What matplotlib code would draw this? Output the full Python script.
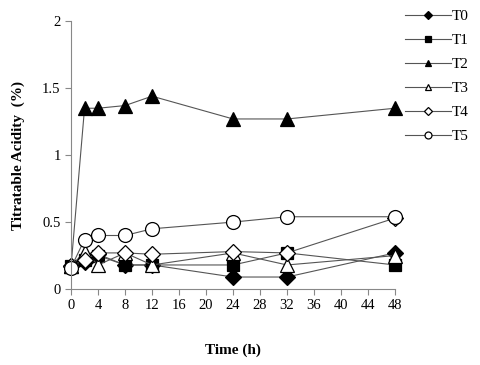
import matplotlib
matplotlib.use("Agg")
import matplotlib.pyplot as plt
from matplotlib.lines import Line2D

hours = [0, 2, 4, 8, 12, 24, 32, 48]
T0 = [0.17, 0.20, 0.26, 0.18, 0.18, 0.09, 0.09, 0.27]
T1 = [0.17, 0.22, 0.25, 0.18, 0.18, 0.18, 0.27, 0.18]
T2 = [0.17, 1.35, 1.35, 1.37, 1.44, 1.27, 1.27, 1.35]
T3 = [0.17, 0.28, 0.18, 0.27, 0.18, 0.27, 0.18, 0.25]
T4 = [0.17, 0.22, 0.27, 0.27, 0.26, 0.28, 0.27, 0.53]
T5 = [0.16, 0.37, 0.40, 0.40, 0.45, 0.50, 0.54, 0.54]
labels = ["T0", "T1", "T2", "T3", "T4", "T5"]
xticks = list(range(0, 49, 4))
yticks = [0, 0.5, 1, 1.5, 2]
ytick_labels = ["0", "0.5", "1", "1.5", "2"]

plt.rcParams['font.family'] = ['Liberation Serif', 'DejaVu Serif']

fig = plt.figure(figsize=(4.8, 3.65), dpi=100)
ax = fig.add_axes([0.148, 0.208, 0.675, 0.734])

styles = [
    dict(marker='D', ms=8, mfc='black', mec='black'),
    dict(marker='s', ms=8, mfc='black', mec='black'),
    dict(marker='^', ms=10, mfc='black', mec='black'),
    dict(marker='^', ms=10, mfc='white', mec='black'),
    dict(marker='D', ms=8, mfc='white', mec='black'),
    dict(marker='o', ms=10, mfc='white', mec='black'),
]
series = [T0, T1, T2, T3, T4, T5]
handles = []
for s, st, lab in zip(series, styles, labels):
    ax.plot(hours, s, color='#555555', lw=0.8, mew=0.9, label=lab,
            clip_on=False, **st)
    hs = dict(st)
    hs['ms'] = st['ms'] * 0.5
    handles.append(Line2D([0], [0], color='#555555', lw=0.8, mew=0.9, **hs))

ax.set_xlim(0, 48)
ax.set_ylim(0, 2)
ax.set_xticks(xticks)
ax.set_yticks(yticks)
ax.set_yticklabels(ytick_labels)
for sp in ['top', 'right']:
    ax.spines[sp].set_visible(False)
for sp in ['left', 'bottom']:
    ax.spines[sp].set_color('#888888')
    ax.spines[sp].set_linewidth(0.8)
ax.tick_params(direction='out', length=4, width=0.8, color='#888888', labelsize=10.5)

ax.set_xlabel("Time (h)", fontsize=11, fontweight='bold', labelpad=22)
ax.set_ylabel("Titratable Acidity  (%)", fontsize=11, fontweight='bold', labelpad=12)

fig.legend(handles=handles, labels=labels, loc='upper left',
           bbox_to_anchor=(0.825, 1.0), frameon=False, fontsize=11,
           handlelength=3.0, handletextpad=0.05, labelspacing=0.68,
           borderaxespad=0.2)

fig.savefig("out.png", dpi=100)
